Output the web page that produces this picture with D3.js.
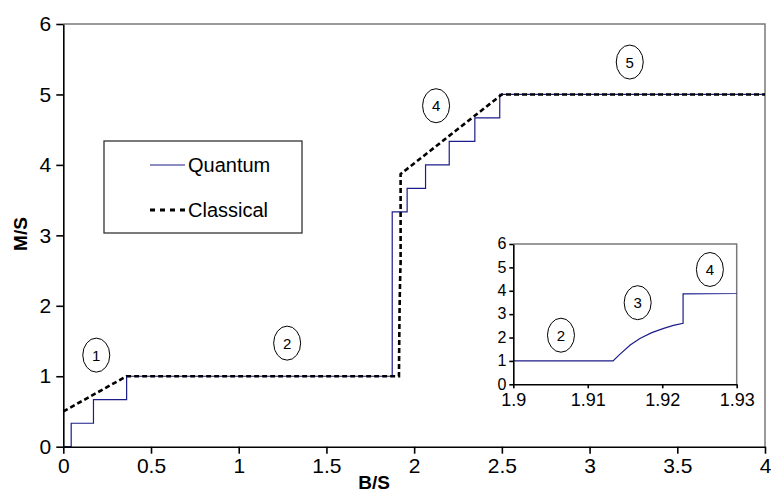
<!DOCTYPE html>
<head>
    <meta charset="UTF-8" />
    <style>
        body {
            margin: 0;
            padding: 0;
            background: #fff;
            font-family: "Liberation Sans", Arial, sans-serif;
        }

        .frame {
            fill: none;
            stroke: #7a7a7a;
            stroke-width: 1.5px;
        }

        .axis path,
        .axis line {
            stroke: #000;
            stroke-width: 1.6px;
        }

        .quantum {
            fill: none;
            stroke: #1c1c8a;
            stroke-width: 1.2px;
        }

        .classical {
            fill: none;
            stroke: #000;
            stroke-width: 2.6px;
            stroke-dasharray: 5 3;
        }

        .bubble {
            fill: #fff;
            stroke: #000;
            stroke-width: 1px;
        }
    </style>
    <title>M/S vs B/S</title>
</head>

<svg width="771" height="494"></svg>
<script src="https://d3js.org/d3.v7.min.js"></script>

<script>
    // quantum magnetisation: steps (value holds until next B)
    const quantumB = [0, 0.045, 0.172, 0.361, 1.875, 1.96, 2.065, 2.2, 2.346, 2.488, 4];
    const quantumM = [0, 0.333, 0.667, 1, 3.333, 3.667, 4, 4.333, 4.667, 5, 5];

    // classical magnetisation
    const classicalB = [0, 0.36, 1.9134, 1.9143, 1.9157, 1.917, 1.9186, 1.9202, 1.9215, 1.9228, 1.9228, 2.5, 4];
    const classicalM = [0.5, 1, 1, 1.28, 1.68, 1.96, 2.21, 2.39, 2.52, 2.61, 3.87, 5, 5];

    // region labels
    const regionNames = ["1", "2", "4", "5"];
    const regionB = [0.188, 1.276, 2.125, 3.229];
    const regionM = [1.3, 1.47, 4.84, 5.46];

    const insetNames = ["2", "3", "4"];
    const insetB = [1.9064, 1.9167, 1.9264];
    const insetM = [2.1, 3.49, 4.91];

    const xTicks = [0, 0.5, 1, 1.5, 2, 2.5, 3, 3.5, 4];
    const yTicks = [0, 1, 2, 3, 4, 5, 6];
    const insetXTicks = [1.9, 1.91, 1.92, 1.93];

    const svg = d3.select("svg");

    const x = d3.scaleLinear().domain([0, 4]).range([63.3, 765]);
    const y = d3.scaleLinear().domain([0, 6]).range([446.7, 24]);

    // top/right frame
    svg.append("path").attr("class", "frame")
        .attr("d", `M ${x(0)} ${y(6)} H ${x(4)} V ${y(0)}`);

    const quantum = quantumB.map((b, i) => [b, quantumM[i]]);
    const classical = classicalB.map((b, i) => [b, classicalM[i]]);

    svg.append("path").attr("class", "quantum")
        .attr("d", d3.line().x(d => x(d[0])).y(d => y(d[1])).curve(d3.curveStepAfter)(quantum));

    svg.append("path").attr("class", "classical")
        .attr("d", d3.line().x(d => x(d[0])).y(d => y(d[1]))(classical));

    // axes
    const gx = svg.append("g").attr("class", "axis")
        .attr("transform", `translate(0,${y(0)})`)
        .call(d3.axisBottom(x).tickValues(xTicks).tickSize(7).tickSizeOuter(0).tickPadding(4).tickFormat(d3.format("")));
    const gy = svg.append("g").attr("class", "axis")
        .attr("transform", `translate(${x(0)},0)`)
        .call(d3.axisLeft(y).tickValues(yTicks).tickSize(7).tickSizeOuter(0).tickPadding(5).tickFormat(d3.format("")));
    svg.selectAll(".axis text")
        .attr("font-family", "Liberation Sans, Arial, sans-serif")
        .attr("font-size", 21).attr("fill", "#000");

    svg.append("text").text("B/S")
        .attr("x", 374).attr("y", 489)
        .attr("text-anchor", "middle")
        .attr("font-weight", "bold").attr("font-size", 19);

    svg.append("text").text("M/S")
        .attr("transform", "translate(27,234) rotate(-90)")
        .attr("text-anchor", "middle")
        .attr("font-weight", "bold").attr("font-size", 19);

    function bubbles(g, names, bs, ms, sx, sy) {
        names.forEach((n, i) => {
            g.append("ellipse").attr("class", "bubble")
                .attr("cx", sx(bs[i])).attr("cy", sy(ms[i]))
                .attr("rx", 13.5).attr("ry", 17);
            g.append("text").text(n)
                .attr("x", sx(bs[i])).attr("y", sy(ms[i]) + 5.5)
                .attr("text-anchor", "middle").attr("font-size", 15);
        });
    }
    bubbles(svg, regionNames, regionB, regionM, x, y);

    // legend
    const legend = svg.append("g");
    legend.append("rect")
        .attr("x", 104).attr("y", 141).attr("width", 198).attr("height", 92)
        .attr("fill", "#fff").attr("stroke", "#333").attr("stroke-width", 1.3);
    legend.append("line").attr("class", "quantum")
        .attr("x1", 150).attr("x2", 185).attr("y1", 165).attr("y2", 165)
        .attr("stroke", "#5a5aa8");
    legend.append("line")
        .attr("x1", 150).attr("x2", 185).attr("y1", 210).attr("y2", 210)
        .attr("stroke", "#000").attr("stroke-width", 3).attr("stroke-dasharray", "5 5");
    legend.append("text").text("Quantum").attr("x", 188).attr("y", 172).attr("font-size", 20);
    legend.append("text").text("Classical").attr("x", 188).attr("y", 217).attr("font-size", 20);

    // inset
    const ix = d3.scaleLinear().domain([1.9, 1.93]).range([513.3, 736.7]);
    const iy = d3.scaleLinear().domain([0, 6]).range([384.3, 244]);
    const inset = svg.append("g");
    inset.append("rect")
        .attr("x", ix(1.9)).attr("y", iy(6))
        .attr("width", ix(1.93) - ix(1.9)).attr("height", iy(0) - iy(6))
        .attr("fill", "#fff");
    inset.append("path").attr("class", "frame").attr("stroke-width", 1.2)
        .attr("d", `M ${ix(1.9)} ${iy(6)} H ${ix(1.93)} V ${iy(0)}`);

    svg.append("clipPath").attr("id", "insetclip")
        .append("rect")
        .attr("x", ix(1.9)).attr("y", iy(6))
        .attr("width", ix(1.93) - ix(1.9)).attr("height", iy(0) - iy(6));

    inset.append("path").attr("class", "quantum")
        .attr("clip-path", "url(#insetclip)")
        .attr("d", d3.line().x(d => ix(d[0])).y(d => iy(d[1]))(classical));

    const igx = inset.append("g").attr("class", "axis")
        .attr("transform", `translate(0,${iy(0)})`)
        .call(d3.axisBottom(ix).tickValues(insetXTicks).tickSize(4).tickSizeOuter(0).tickPadding(5).tickFormat(d3.format("")));
    const igy = inset.append("g").attr("class", "axis")
        .attr("transform", `translate(${ix(1.9)},0)`)
        .call(d3.axisLeft(iy).tickValues(yTicks).tickSize(4).tickSizeOuter(0).tickPadding(3).tickFormat(d3.format("")));
    igx.selectAll("text").attr("font-size", 18);
    igy.selectAll("text").attr("font-size", 16).attr("dy", "0.3em");
    inset.selectAll("text").attr("font-family", "Liberation Sans, Arial, sans-serif").attr("fill", "#000");

    bubbles(inset, insetNames, insetB, insetM, ix, iy);
</script>
